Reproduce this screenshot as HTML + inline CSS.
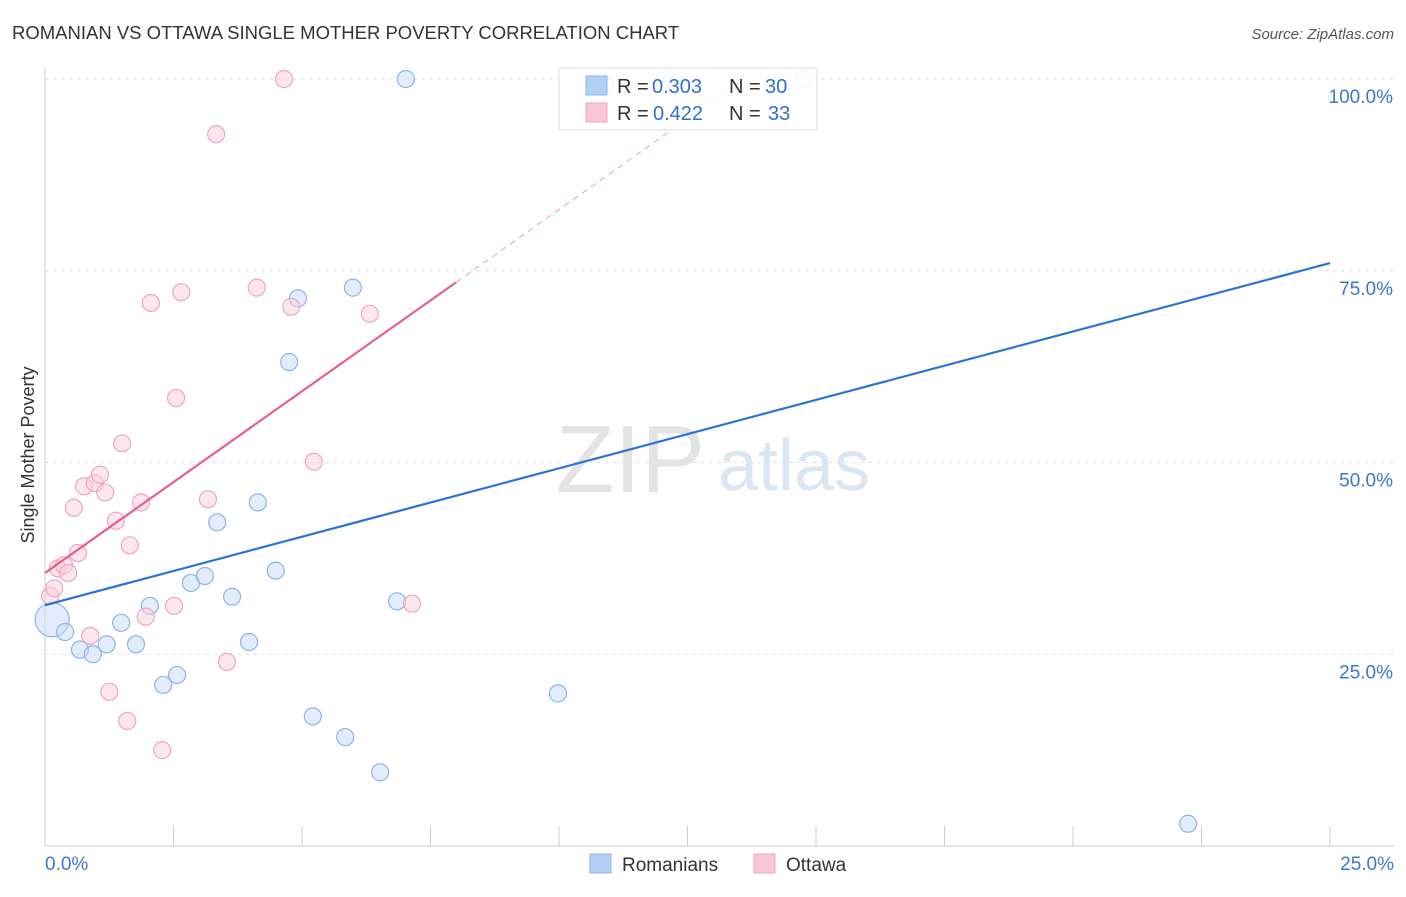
<!DOCTYPE html>
<html><head><meta charset="utf-8"><style>
body{margin:0;background:#fff;font-family:"Liberation Sans",sans-serif}
svg text{font-family:"Liberation Sans",sans-serif}
</style></head><body>
<svg width="1406" height="892" viewBox="0 0 1406 892">
<text x="12" y="39" font-size="18.5" fill="#333">ROMANIAN VS OTTAWA SINGLE MOTHER POVERTY CORRELATION CHART</text>
<text x="1394" y="39" font-size="15" fill="#555" font-style="italic" text-anchor="end">Source: ZipAtlas.com</text>
<g id="grid"></g>
<text x="705" y="492" font-size="96" fill="#e4e4e4" text-anchor="end" font-family="Liberation Serif">ZIP</text>
<text x="718" y="490" font-size="72" fill="#dbe6f3">atlas</text>
<text x="34" y="455" font-size="18" fill="#333" text-anchor="middle" transform="rotate(-90 34 455)">Single Mother Poverty</text>
<g id="marks"></g>
<g>
<rect x="559" y="68" width="258" height="62" fill="#fff" fill-opacity="0.9" stroke="#ddd"/>
<rect x="586" y="76" width="21" height="19" fill="#b4cff3" stroke="#8db4ea"/>
<rect x="586" y="103" width="21" height="19" fill="#f8c7d5" stroke="#f0a5bc"/>
<text y="93" font-size="20" fill="#333"><tspan x="617">R =</tspan><tspan x="652" fill="#2f6fd0">0.303</tspan><tspan x="729">N =</tspan><tspan x="765" fill="#2f6fd0">30</tspan></text>
<text y="120" font-size="20" fill="#333"><tspan x="617">R =</tspan><tspan x="653" fill="#2f6fd0">0.422</tspan><tspan x="729">N =</tspan><tspan x="768" fill="#2f6fd0">33</tspan></text>
</g>
<g>
<rect x="590" y="854" width="21" height="19" fill="#b4cff3" stroke="#8db4ea"/>
<text x="622" y="871" font-size="19" fill="#333">Romanians</text>
<rect x="754" y="854" width="21" height="19" fill="#f8c7d5" stroke="#f0a5bc"/>
<text x="786" y="871" font-size="19" fill="#333">Ottawa</text>
</g>
</svg>
<script>
const yTicks=[25,50,75,100];
const blueX=[0.14,0.39,0.68,0.93,1.2,1.48,1.77,2.04,2.3,2.57,2.84,3.11,3.35,3.64,3.97,4.14,4.49,4.75,4.92,5.21,5.84,5.99,6.52,6.85,7.02,9.98,14.75,22.24,10.9,12.1];
const blueY=[29.5,27.9,25.6,25.0,26.3,29.1,26.3,31.3,21.0,22.3,34.3,35.2,42.2,32.5,26.6,44.8,35.9,63.1,71.4,16.9,14.2,72.8,9.6,31.9,100,19.9,100,2.9,99.2,100];
const pinkX=[0.1,0.18,0.25,0.37,0.45,0.56,0.64,0.76,0.88,0.97,1.07,1.17,1.25,1.38,1.5,1.6,1.65,1.87,1.96,2.06,2.28,2.51,2.55,2.65,3.17,3.33,3.54,4.12,4.65,4.79,5.23,6.32,7.14];
const pinkY=[32.6,33.6,36.2,36.6,35.6,44.1,38.2,46.9,27.4,47.3,48.4,46.1,20.1,42.4,52.5,16.3,39.2,44.8,29.9,70.8,12.5,31.3,58.4,72.2,45.2,92.8,24.0,72.8,100,70.3,50.1,69.4,31.6];
const blueLine=[31.4,76.0];
const pinkLine=[35.6,73.5];
const NS="http://www.w3.org/2000/svg";
const X=v=>45+v*51.4, Y=v=>846-v*7.67;
function mk(t,a,p){const e=document.createElementNS(NS,t);for(const k in a)e.setAttribute(k,a[k]);p.appendChild(e);return e;}
const g=document.getElementById('grid'),m=document.getElementById('marks');
yTicks.forEach(t=>{
 const l=mk('line',{x1:45,x2:1394,y1:Y(t),y2:Y(t),stroke:'#e0e0e0','stroke-dasharray':'4,4'},g);
 
 
 const tx=mk('text',{x:1393,y:Y(t)+24,'font-size':19,fill:'#3a78d4','text-anchor':'end'},g);
 tx.textContent=t.toFixed(1)+'%';
 
 
});
const ax=mk('line',{x1:45,x2:45,y1:68,y2:846,stroke:'#ccc'},g);


const bx=mk('line',{x1:45,x2:1394,y1:846,y2:846,stroke:'#ccc'},g);


for(let i=0;i<=10;i++){const t=mk('line',{x1:X(i*2.5),x2:X(i*2.5),y1:826,y2:846,stroke:'#ccc'},g);
 
 }
[['0.0%',45,'start'],['25.0%',1394,'end']].forEach(([s,x,a])=>{const t=mk('text',{x:x,y:870,'font-size':19,fill:'#3a78d4','text-anchor':a},g);t.textContent=s;
 
 });
blueX.forEach((v,i)=>{const c=mk('circle',{cx:X(v),cy:Y(blueY[i]),r:i==0?17:8.5,fill:'#c5daf6','fill-opacity':0.5,stroke:'#8db4ea','stroke-width':1.2},m);
 
 });
pinkX.forEach((v,i)=>{const c=mk('circle',{cx:X(v),cy:Y(pinkY[i]),r:8.5,fill:'#f9d0dc','fill-opacity':0.5,stroke:'#f0a5bc','stroke-width':1.2},m);
 
 });
const bl=mk('line',{x1:X(0),y1:Y(blueLine[0]),x2:X(25),y2:Y(blueLine[1]),stroke:'#2b74d6','stroke-width':2.2},m);


const pe=8,sl=(pinkLine[1]-pinkLine[0])/pe,xe=(100-pinkLine[0])/sl;
const pd=mk('line',{x1:X(pe),y1:Y(pinkLine[1]),x2:X(xe),y2:Y(100),stroke:'#e8a0b6','stroke-width':1,'stroke-dasharray':'6,5'},m);


const pl=mk('line',{x1:X(0),y1:Y(pinkLine[0]),x2:X(pe),y2:Y(pinkLine[1]),stroke:'#e8608a','stroke-width':2.2},m);


</script>
</body></html>
